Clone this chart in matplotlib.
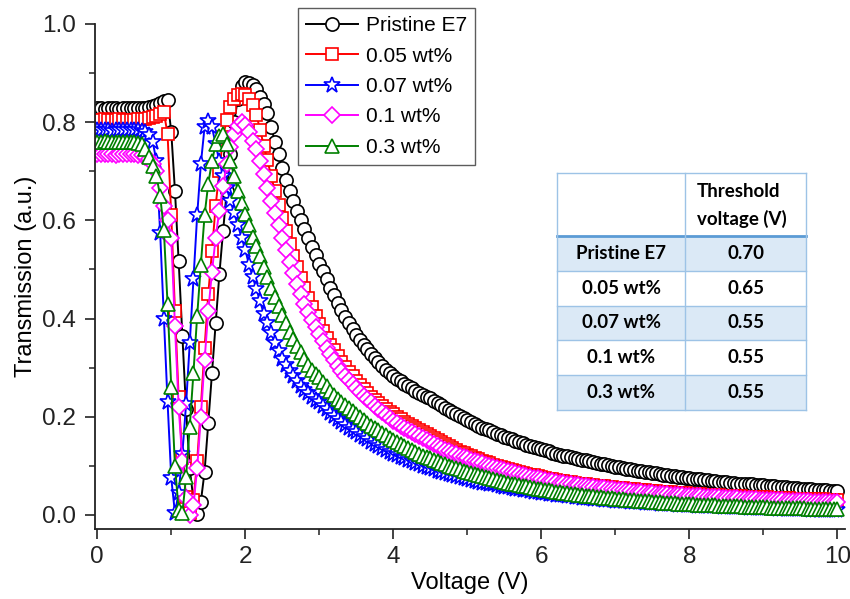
import numpy as np
import matplotlib.pyplot as plt
from matplotlib.patches import Rectangle
from matplotlib.ticker import MultipleLocator

plt.rcParams['font.family'] = ['Liberation Sans', 'DejaVu Sans']

# measurement grid: 0 - 10 V in 0.05 V steps
voltage = np.round(np.arange(201) * 0.05, 2)

pristine = [
    0.828, 0.828, 0.827, 0.828, 0.828, 0.828, 0.827, 0.828, 0.828, 0.828,
    0.828, 0.828, 0.828, 0.829, 0.830, 0.832, 0.835, 0.839, 0.844, 0.846,
    0.780, 0.660, 0.517, 0.364, 0.215, 0.095, 0.030, 0.002, 0.027, 0.088,
    0.187, 0.290, 0.390, 0.490, 0.578, 0.660, 0.735, 0.800, 0.848, 0.873,
    0.881, 0.880, 0.875, 0.867, 0.852, 0.836, 0.818, 0.790, 0.760, 0.735,
    0.707, 0.682, 0.660, 0.640, 0.620, 0.600, 0.582, 0.564, 0.546, 0.529,
    0.512, 0.496, 0.480, 0.463, 0.447, 0.432, 0.418, 0.404, 0.391, 0.379,
    0.367, 0.356, 0.346, 0.337, 0.328, 0.319, 0.311, 0.303, 0.296, 0.289,
    0.282, 0.277, 0.272, 0.267, 0.262, 0.258, 0.253, 0.249, 0.245, 0.241,
    0.238, 0.233, 0.228, 0.223, 0.218, 0.214, 0.209, 0.205, 0.201, 0.197,
    0.193, 0.189, 0.185, 0.182, 0.178, 0.175, 0.172, 0.168, 0.165, 0.162,
    0.159, 0.156, 0.154, 0.151, 0.148, 0.146, 0.143, 0.141, 0.138, 0.136,
    0.134, 0.132, 0.130, 0.127, 0.125, 0.123, 0.121, 0.120, 0.118, 0.116,
    0.114, 0.112, 0.111, 0.109, 0.107, 0.106, 0.104, 0.103, 0.101, 0.100,
    0.098, 0.097, 0.096, 0.094, 0.093, 0.092, 0.090, 0.089, 0.088, 0.087,
    0.086, 0.085, 0.083, 0.082, 0.081, 0.080, 0.079, 0.078, 0.077, 0.076,
    0.075, 0.074, 0.073, 0.073, 0.072, 0.071, 0.070, 0.069, 0.068, 0.068,
    0.067, 0.066, 0.065, 0.064, 0.064, 0.063, 0.062, 0.062, 0.061, 0.060,
    0.060, 0.059, 0.058, 0.058, 0.057, 0.056, 0.056, 0.055, 0.055, 0.054,
    0.053, 0.053, 0.052, 0.052, 0.051, 0.051, 0.050, 0.050, 0.049, 0.049,
    0.048]

wt005 = [
    0.805, 0.805, 0.806, 0.805, 0.805, 0.805, 0.806, 0.805, 0.805, 0.805,
    0.805, 0.806, 0.806, 0.807, 0.808, 0.810, 0.813, 0.816, 0.820, 0.776,
    0.610, 0.415, 0.240, 0.115, 0.037, 0.003, 0.030, 0.110, 0.220, 0.340,
    0.450, 0.537, 0.630, 0.700, 0.770, 0.805, 0.830, 0.848, 0.855, 0.858,
    0.856, 0.848, 0.835, 0.815, 0.785, 0.752, 0.722, 0.690, 0.660, 0.632,
    0.605, 0.578, 0.552, 0.528, 0.505, 0.483, 0.462, 0.442, 0.423, 0.405,
    0.389, 0.374, 0.360, 0.347, 0.335, 0.323, 0.312, 0.301, 0.291, 0.282,
    0.273, 0.264, 0.256, 0.248, 0.241, 0.234, 0.227, 0.221, 0.215, 0.210,
    0.205, 0.200, 0.195, 0.190, 0.185, 0.181, 0.177, 0.173, 0.169, 0.165,
    0.161, 0.156, 0.152, 0.148, 0.144, 0.140, 0.136, 0.133, 0.129, 0.126,
    0.122, 0.119, 0.116, 0.113, 0.110, 0.108, 0.105, 0.102, 0.100, 0.098,
    0.096, 0.094, 0.092, 0.090, 0.088, 0.086, 0.084, 0.082, 0.081, 0.079,
    0.077, 0.076, 0.074, 0.073, 0.072, 0.070, 0.069, 0.068, 0.067, 0.065,
    0.064, 0.063, 0.062, 0.061, 0.060, 0.059, 0.058, 0.058, 0.057, 0.056,
    0.055, 0.054, 0.054, 0.053, 0.052, 0.052, 0.051, 0.050, 0.050, 0.049,
    0.048, 0.048, 0.047, 0.047, 0.046, 0.046, 0.045, 0.045, 0.044, 0.044,
    0.043, 0.043, 0.042, 0.042, 0.041, 0.041, 0.041, 0.040, 0.040, 0.039,
    0.039, 0.039, 0.038, 0.038, 0.038, 0.037, 0.037, 0.037, 0.036, 0.036,
    0.036, 0.036, 0.035, 0.035, 0.035, 0.034, 0.034, 0.034, 0.033, 0.033,
    0.033, 0.033, 0.033, 0.032, 0.032, 0.032, 0.032, 0.031, 0.031, 0.031,
    0.031]

wt007 = [
    0.783, 0.784, 0.783, 0.783, 0.782, 0.783, 0.784, 0.783, 0.783, 0.783,
    0.783, 0.783, 0.782, 0.780, 0.774, 0.760, 0.720, 0.575, 0.400, 0.230,
    0.075, 0.004, 0.045, 0.125, 0.225, 0.350, 0.480, 0.610, 0.715, 0.790,
    0.802, 0.790, 0.755, 0.720, 0.690, 0.665, 0.640, 0.615, 0.590, 0.565,
    0.540, 0.510, 0.485, 0.460, 0.435, 0.410, 0.390, 0.370, 0.350, 0.333,
    0.318, 0.305, 0.293, 0.282, 0.272, 0.263, 0.255, 0.248, 0.241, 0.235,
    0.229, 0.222, 0.215, 0.208, 0.201, 0.195, 0.189, 0.183, 0.178, 0.173,
    0.168, 0.163, 0.158, 0.154, 0.149, 0.145, 0.141, 0.137, 0.133, 0.129,
    0.125, 0.122, 0.118, 0.115, 0.112, 0.109, 0.106, 0.103, 0.100, 0.098,
    0.095, 0.093, 0.090, 0.088, 0.086, 0.083, 0.081, 0.079, 0.077, 0.075,
    0.073, 0.071, 0.070, 0.068, 0.066, 0.065, 0.063, 0.062, 0.060, 0.059,
    0.057, 0.056, 0.054, 0.053, 0.052, 0.051, 0.050, 0.049, 0.047, 0.046,
    0.045, 0.044, 0.043, 0.042, 0.041, 0.040, 0.040, 0.039, 0.038, 0.037,
    0.036, 0.035, 0.035, 0.034, 0.033, 0.033, 0.032, 0.031, 0.031, 0.030,
    0.029, 0.029, 0.028, 0.028, 0.027, 0.027, 0.026, 0.026, 0.025, 0.025,
    0.024, 0.024, 0.023, 0.023, 0.022, 0.022, 0.022, 0.021, 0.021, 0.020,
    0.020, 0.020, 0.019, 0.019, 0.019, 0.019, 0.018, 0.018, 0.018, 0.017,
    0.017, 0.017, 0.017, 0.016, 0.016, 0.016, 0.015, 0.015, 0.015, 0.014,
    0.014, 0.014, 0.014, 0.014, 0.013, 0.013, 0.013, 0.013, 0.012, 0.012,
    0.012, 0.012, 0.012, 0.011, 0.011, 0.011, 0.011, 0.011, 0.010, 0.010,
    0.010]

wt01 = [
    0.735, 0.735, 0.736, 0.735, 0.735, 0.734, 0.735, 0.735, 0.735, 0.735,
    0.735, 0.734, 0.733, 0.730, 0.725, 0.715, 0.700, 0.665, 0.630, 0.600,
    0.565, 0.385, 0.220, 0.110, 0.035, 0.000, 0.020, 0.095, 0.200, 0.315,
    0.415, 0.495, 0.565, 0.620, 0.670, 0.715, 0.750, 0.775, 0.792, 0.800,
    0.795, 0.780, 0.762, 0.745, 0.720, 0.695, 0.665, 0.640, 0.615, 0.590,
    0.565, 0.540, 0.515, 0.492, 0.470, 0.450, 0.430, 0.414, 0.398, 0.383,
    0.368, 0.354, 0.341, 0.328, 0.316, 0.304, 0.293, 0.283, 0.274, 0.266,
    0.258, 0.250, 0.243, 0.236, 0.229, 0.222, 0.216, 0.210, 0.204, 0.198,
    0.192, 0.187, 0.182, 0.177, 0.173, 0.169, 0.164, 0.160, 0.156, 0.152,
    0.148, 0.144, 0.140, 0.137, 0.133, 0.130, 0.127, 0.124, 0.121, 0.118,
    0.115, 0.112, 0.110, 0.107, 0.105, 0.102, 0.100, 0.098, 0.095, 0.093,
    0.091, 0.089, 0.087, 0.085, 0.083, 0.082, 0.080, 0.078, 0.076, 0.075,
    0.073, 0.072, 0.070, 0.069, 0.068, 0.066, 0.065, 0.064, 0.063, 0.061,
    0.060, 0.059, 0.058, 0.057, 0.056, 0.055, 0.055, 0.054, 0.053, 0.052,
    0.051, 0.050, 0.050, 0.049, 0.048, 0.047, 0.047, 0.046, 0.045, 0.045,
    0.044, 0.043, 0.043, 0.042, 0.042, 0.041, 0.041, 0.040, 0.040, 0.039,
    0.039, 0.038, 0.038, 0.038, 0.037, 0.037, 0.036, 0.036, 0.036, 0.035,
    0.035, 0.035, 0.034, 0.034, 0.033, 0.033, 0.033, 0.032, 0.032, 0.031,
    0.031, 0.031, 0.031, 0.030, 0.030, 0.030, 0.029, 0.029, 0.029, 0.028,
    0.028, 0.028, 0.028, 0.027, 0.027, 0.027, 0.027, 0.026, 0.026, 0.026,
    0.026]

wt03 = [
    0.760, 0.760, 0.761, 0.760, 0.760, 0.759, 0.760, 0.760, 0.760, 0.760,
    0.760, 0.758, 0.755, 0.745, 0.730, 0.710, 0.690, 0.650, 0.580, 0.430,
    0.260, 0.100, 0.010, 0.003, 0.078, 0.180, 0.290, 0.405, 0.510, 0.610,
    0.675, 0.720, 0.755, 0.772, 0.775, 0.755, 0.720, 0.690, 0.660, 0.635,
    0.612, 0.590, 0.567, 0.547, 0.527, 0.505, 0.484, 0.462, 0.443, 0.425,
    0.408, 0.390, 0.373, 0.358, 0.344, 0.331, 0.318, 0.306, 0.295, 0.287,
    0.280, 0.271, 0.262, 0.253, 0.245, 0.237, 0.230, 0.223, 0.217, 0.211,
    0.205, 0.199, 0.193, 0.188, 0.182, 0.177, 0.172, 0.167, 0.162, 0.157,
    0.152, 0.148, 0.144, 0.140, 0.136, 0.132, 0.128, 0.125, 0.121, 0.118,
    0.115, 0.112, 0.109, 0.106, 0.103, 0.100, 0.098, 0.095, 0.093, 0.090,
    0.088, 0.086, 0.083, 0.081, 0.079, 0.077, 0.075, 0.073, 0.071, 0.069,
    0.067, 0.065, 0.064, 0.062, 0.061, 0.059, 0.058, 0.056, 0.055, 0.053,
    0.052, 0.051, 0.050, 0.048, 0.047, 0.046, 0.045, 0.044, 0.043, 0.042,
    0.041, 0.040, 0.039, 0.038, 0.038, 0.037, 0.036, 0.035, 0.035, 0.034,
    0.033, 0.032, 0.032, 0.031, 0.031, 0.030, 0.029, 0.029, 0.028, 0.028,
    0.027, 0.026, 0.026, 0.025, 0.025, 0.024, 0.024, 0.023, 0.023, 0.022,
    0.022, 0.022, 0.021, 0.021, 0.021, 0.020, 0.020, 0.020, 0.019, 0.019,
    0.019, 0.018, 0.018, 0.018, 0.018, 0.017, 0.017, 0.017, 0.016, 0.016,
    0.016, 0.016, 0.015, 0.015, 0.015, 0.015, 0.015, 0.014, 0.014, 0.014,
    0.014, 0.014, 0.013, 0.013, 0.013, 0.013, 0.013, 0.012, 0.012, 0.012,
    0.012]

labels = ['Pristine E7', '0.05 wt%', '0.07 wt%', '0.1 wt%', '0.3 wt%']
series = [pristine, wt005, wt007, wt01, wt03]
colors = ['black', '#ff0000', '#0000ff', '#ff00ff', '#008000']
markers = ['o', 's', '*', 'D', '^']
msizes = [9.5, 8.5, 12.0, 8.0, 9.5]

# inset table
table_samples = ['Pristine E7', '0.05 wt%', '0.07 wt%', '0.1 wt%', '0.3 wt%']
threshold_v = ['0.70', '0.65', '0.55', '0.55', '0.55']

fig = plt.figure(figsize=(8.5, 5.99), dpi=100)
ax = fig.add_axes([0.1118, 0.117, 0.882, 0.843])

for y, lab, c, m, ms in zip(series, labels, colors, markers, msizes):
    ax.plot(voltage, y, color=c, lw=1.4, marker=m, ms=ms,
            mfc='white', mec=c, mew=1.2, label=lab)

ax.set_xlim(-0.03, 10.1)
ax.set_ylim(-0.0285, 1.0)
ax.xaxis.set_major_locator(MultipleLocator(2))
ax.xaxis.set_minor_locator(MultipleLocator(1))
ax.yaxis.set_minor_locator(MultipleLocator(0.1))
ax.set_yticks([0.0, 0.2, 0.4, 0.6, 0.8, 1.0])
ax.set_yticklabels(['0.0', '0.2', '0.4', '0.6', '0.8', '1.0'])
ax.spines['top'].set_visible(False)
ax.spines['right'].set_visible(False)
for s in ['left', 'bottom']:
    ax.spines[s].set_linewidth(1.3)
    ax.spines[s].set_color('#222222')
ax.tick_params(which='major', direction='out', length=7, width=1.2,
               labelsize=17.5, colors='#222222', pad=5)
ax.tick_params(axis='y', which='major', pad=7)
ax.tick_params(which='minor', direction='out', length=4, width=1.1,
               colors='#222222')
ax.set_xlabel('Voltage (V)', fontsize=17, labelpad=3)
ax.set_ylabel('Transmission (a.u.)', fontsize=17, labelpad=3)

leg = ax.legend(loc='upper left', bbox_to_anchor=(0.3506, 0.987),
                bbox_transform=fig.transFigure, fontsize=15,
                frameon=True, fancybox=False, edgecolor='#333333',
                handlelength=2.5, labelspacing=0.55, borderpad=0.4,
                handletextpad=0.35, borderaxespad=0)
leg.get_frame().set_linewidth(1.0)

# ---------- threshold voltage table ----------
x0, x1, xm = 557, 806, 685
header_top, header_bot = 173, 236
row_h = 34.8
blue_fill = '#dbe9f6'
edge = '#9dc3e6'


def fx(px):
    return px / 850


def fy(py):
    return 1 - py / 599


tfont = dict(family=['Lato', 'DejaVu Sans'], fontweight='bold',
             fontsize=13.5, color='black')

fig.patches.append(Rectangle((fx(x0), fy(header_bot)), fx(x1) - fx(x0),
                             fy(header_top) - fy(header_bot),
                             transform=fig.transFigure, fc='white',
                             ec='none'))
fig.text(fx(697), fy(191), 'Threshold', ha='left', va='center', **tfont)
fig.text(fx(697), fy(219), 'voltage (V)', ha='left', va='center', **tfont)

for i, (name, val) in enumerate(zip(table_samples, threshold_v)):
    top = header_bot + i * row_h
    fc = blue_fill if i % 2 == 0 else 'white'
    fig.patches.append(Rectangle((fx(x0), fy(top + row_h)), fx(x1) - fx(x0),
                                 fy(top) - fy(top + row_h),
                                 transform=fig.transFigure, fc=fc,
                                 ec='none'))
    yc = fy(top + row_h / 2)
    fig.text(fx((x0 + xm) / 2), yc, name, ha='center', va='center', **tfont)
    fig.text(fx((xm + x1) / 2), yc, val, ha='center', va='center', **tfont)
    fig.add_artist(plt.Line2D([fx(x0), fx(x1)], [fy(top + row_h)] * 2,
                              transform=fig.transFigure, color=edge, lw=1.0))

bottom = header_bot + 5 * row_h
fig.add_artist(plt.Line2D([fx(x0), fx(x1)], [fy(header_top)] * 2,
                          transform=fig.transFigure, color=edge, lw=1.0))
fig.add_artist(plt.Line2D([fx(x0), fx(x1)], [fy(header_bot)] * 2,
                          transform=fig.transFigure, color='#5b9bd5', lw=2.0))
for xx in [x0, xm, x1]:
    fig.add_artist(plt.Line2D([fx(xx)] * 2, [fy(header_top), fy(bottom)],
                              transform=fig.transFigure, color=edge, lw=1.0))

fig.savefig('out.png', dpi=100)
